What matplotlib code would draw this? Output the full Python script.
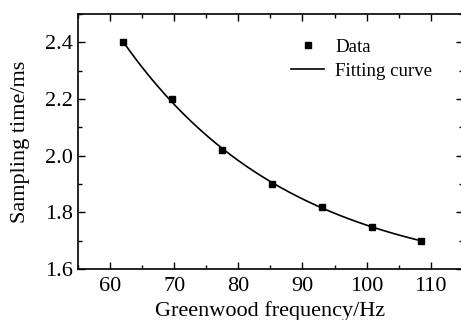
import numpy as np
import matplotlib
matplotlib.use("Agg")
import matplotlib.pyplot as plt
from matplotlib.ticker import MultipleLocator

freq = [62.0, 69.7, 77.5, 85.2, 93.0, 100.8, 108.5]
samp = [2.40, 2.20, 2.02, 1.90, 1.82, 1.75, 1.70]

plt.rcParams['font.family'] = ['Liberation Serif', 'DejaVu Serif']
plt.rcParams['mathtext.fontset'] = 'stix'

x = np.array(freq)
y = np.array(samp)
# exponential-decay fit y = y0 + A*exp(-(x-x0)/t), least squares over t
best = None
for t in np.linspace(5, 200, 2000):
    e = np.exp(-(x - x[0]) / t)
    M = np.vstack([np.ones_like(e), e]).T
    coef, res, *_ = np.linalg.lstsq(M, y, rcond=None)
    r = np.sum((M @ coef - y) ** 2)
    if best is None or r < best[0]:
        best = (r, t, coef)
_, tb, cb = best
xf = np.linspace(x[0], x[-1], 300)
yf = cb[0] + cb[1] * np.exp(-(xf - x[0]) / tb)

fig = plt.figure(figsize=(4.61, 3.2), dpi=100)
ax = fig.add_axes([0.169, 0.159, 0.835, 0.797])
ax.plot(x, y, 's', color='black', markersize=5, label='Data')
ax.plot(xf, yf, '-', color='black', linewidth=1.2, label='Fitting curve')

ax.set_xlim(55, 115)
ax.set_ylim(1.6, 2.5)
ax.xaxis.set_major_locator(MultipleLocator(10))
ax.xaxis.set_minor_locator(MultipleLocator(5))
ax.yaxis.set_major_locator(MultipleLocator(0.2))
ax.yaxis.set_minor_locator(MultipleLocator(0.1))
ax.tick_params(which='both', direction='in', top=True, right=True, labelsize=16, width=1)
ax.tick_params(which='major', length=5)
ax.tick_params(which='minor', length=3)
ax.tick_params(axis='x', which='both', pad=6)
ax.yaxis.set_major_formatter(matplotlib.ticker.FormatStrFormatter('%.1f'))
for s in ax.spines.values():
    s.set_linewidth(1.2)

ax.set_xlabel('Greenwood frequency/Hz', fontsize=16, labelpad=3)
ax.set_ylabel('Sampling time/ms', fontsize=16, labelpad=11)

ax.legend(loc='upper right', bbox_to_anchor=(0.965, 0.97), frameon=False, fontsize=13.6,
          handlelength=1.75, handletextpad=0.6, labelspacing=0.35)

fig.savefig('out.png', dpi=100)
